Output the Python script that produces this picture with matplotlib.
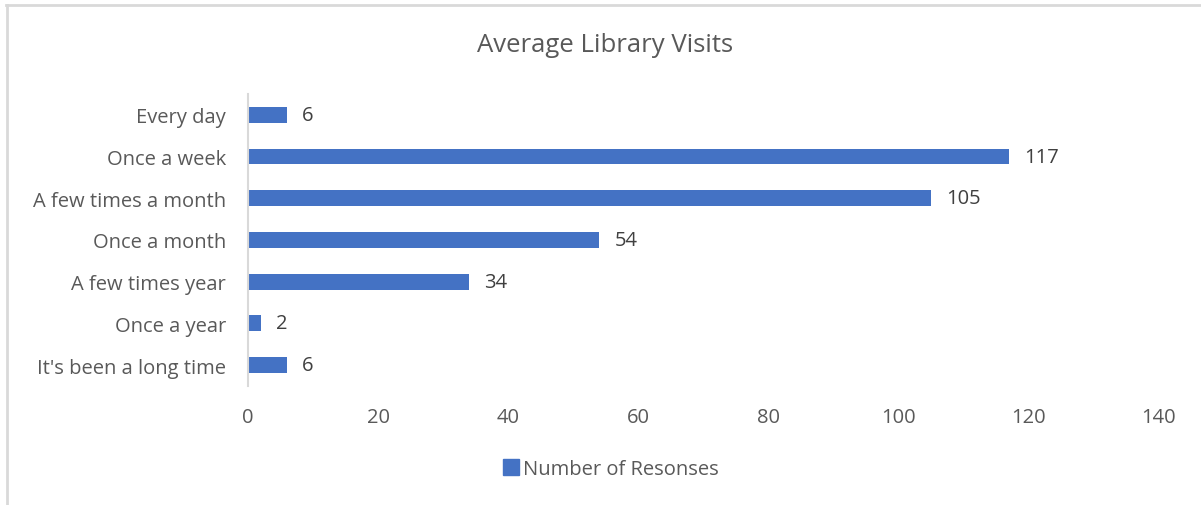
import matplotlib.pyplot as plt
from matplotlib.lines import Line2D

# data
categories = ["Every day", "Once a week", "A few times a month", "Once a month",
              "A few times year", "Once a year", "It's been a long time"]
responses = [6, 117, 105, 54, 34, 2, 6]
xticks = [0, 20, 40, 60, 80, 100, 120, 140]

bar_color = "#4472C4"
text_color = "#595959"
plt.rcParams['font.family'] = ['Open Sans', 'DejaVu Sans']

fig = plt.figure(figsize=(12.01, 5.06), dpi=100)
ax = fig.add_axes([0.2065, 0.2352, 0.7577, 0.5771])

ypos = list(range(len(categories)))[::-1]
ax.barh(ypos, responses, height=0.38, color=bar_color)
for y, v in zip(ypos, responses):
    ax.annotate(str(v), (v, y), xytext=(11, 0), textcoords="offset points",
                va="center", ha="left", fontsize=14.5, color="#404040")

ax.set_xlim(0, 140)
ax.set_ylim(-0.5, len(categories) - 0.5)
ax.set_yticks(ypos)
ax.set_yticklabels(categories)
ax.set_xticks(xticks)
ax.tick_params(axis="both", length=0, labelsize=14.5, labelcolor=text_color)
ax.tick_params(axis="x", pad=15)
ax.tick_params(axis="y", pad=16)
for s in ["top", "right", "bottom"]:
    ax.spines[s].set_visible(False)
ax.spines["left"].set_color("#D9D9D9")
ax.spines["left"].set_linewidth(1.5)

fig.text(0.504, 0.91, "Average Library Visits", ha="center", va="center",
         fontsize=18.5, color=text_color)

handle = Line2D([], [], marker="s", linestyle="none", markersize=11,
                color=bar_color)
fig.legend([handle], ["Number of Resonses"], loc="center",
           bbox_to_anchor=(0.508, 0.071), frameon=False, fontsize=14.5,
           labelcolor=text_color, handletextpad=0.1, handlelength=1.0)

# chart border (top and left only visible)
fig.add_artist(Line2D([0.005, 1.0], [0.988, 0.988], color="#D9D9D9", lw=2,
                      transform=fig.transFigure))
fig.add_artist(Line2D([0.0058, 0.0058], [0.0, 0.988], color="#D9D9D9", lw=2,
                      transform=fig.transFigure))

fig.savefig("out.png", dpi=100)
